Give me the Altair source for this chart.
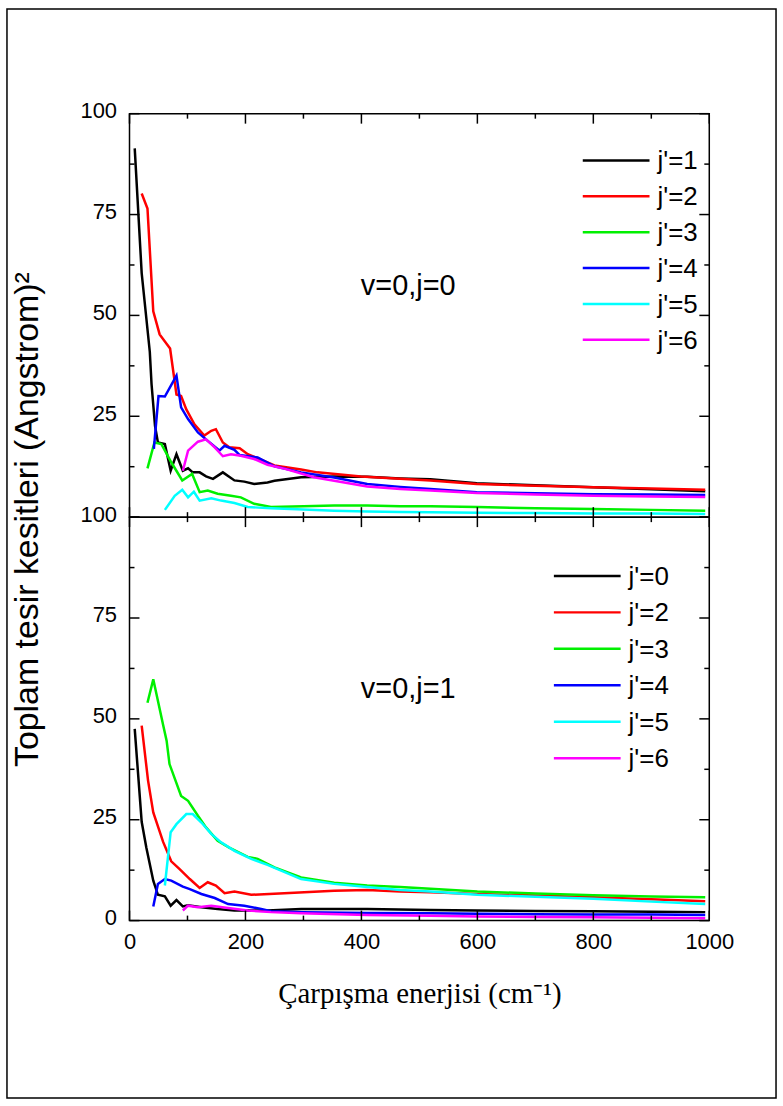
import altair as alt
import pandas as pd

# ---------------- data ----------------
top_labels = ["j'=1", "j'=2", "j'=3", "j'=4", "j'=5", "j'=6"]
bot_labels = ["j'=0", "j'=2", "j'=3", "j'=4", "j'=5", "j'=6"]
line_colors = ["#000000", "#ff0000", "#00f000", "#0000ff", "#00ffff", "#ff00ff"]

# panel v=0, j=0
t1_E = [9, 21, 35, 38, 44, 49, 61, 71, 81, 92, 101, 109, 121, 132, 144, 161, 181, 198, 215, 238, 250, 296, 353, 410, 467, 519, 599, 700, 800, 900, 993]
t1_V = [91.4, 60.5, 41, 33, 22.6, 18.5, 18.1, 11.5, 15.6, 11.5, 12.1, 11.1, 11.1, 10.1, 9.5, 11.1, 9.1, 8.8, 8.2, 8.6, 9.0, 9.9, 10.1, 10.0, 9.6, 9.4, 8.4, 7.9, 7.4, 6.9, 6.4]
t2_E = [21, 31, 41, 52, 70, 81, 89, 98, 112, 129, 141, 149, 161, 172, 190, 204, 221, 250, 296, 324, 399, 519, 599, 700, 800, 900, 993]
t2_V = [80.2, 76.5, 51, 45.3, 41.8, 30.4, 30, 26.7, 23, 20.2, 21.4, 21.8, 18.5, 17.3, 17.1, 15.6, 14.6, 12.8, 11.8, 11.1, 10.1, 9.1, 8.2, 7.8, 7.4, 7.1, 6.8]
t3_E = [31, 43, 55, 72, 91, 108, 121, 135, 152, 175, 192, 215, 244, 300, 353, 410, 467, 519, 600, 700, 800, 900, 993]
t3_V = [12.1, 18.5, 18.1, 13.6, 9.1, 10.7, 6.2, 6.6, 5.8, 5.3, 4.9, 3.3, 2.5, 2.7, 2.9, 2.9, 2.7, 2.7, 2.5, 2.2, 2.0, 1.8, 1.6]
t4_E = [42, 50, 61, 81, 89, 101, 118, 135, 155, 164, 181, 190, 221, 250, 296, 353, 410, 467, 519, 599, 700, 800, 900, 993]
t4_V = [16.9, 30, 29.9, 35.1, 27.2, 24.3, 21, 18.9, 16.5, 17.7, 16.7, 15.4, 14.8, 12.6, 11.1, 9.8, 8.2, 7.5, 7.0, 6.2, 5.9, 5.7, 5.6, 5.5]
t5_E = [61, 78, 91, 101, 111, 121, 141, 158, 181, 204, 244, 300, 353, 410, 467, 519, 600, 700, 800, 900, 993]
t5_V = [1.8, 5.3, 6.8, 4.9, 6.3, 4.1, 4.7, 4.1, 3.5, 2.5, 2.2, 1.9, 1.6, 1.4, 1.3, 1.2, 1.1, 1.0, 0.9, 0.9, 0.8]
t6_E = [92, 101, 118, 132, 147, 161, 175, 192, 215, 238, 270, 318, 353, 410, 467, 519, 599, 700, 800, 900, 993]
t6_V = [11.5, 16.5, 18.7, 19.3, 17.3, 15.1, 15.6, 15.2, 14.4, 13.0, 11.9, 9.9, 9.0, 7.6, 7.0, 6.6, 6.0, 5.6, 5.3, 5.1, 5.0]

# panel v=0, j=1
b0_E = [9, 21, 29, 41, 49, 61, 71, 81, 92, 101, 124, 152, 181, 238, 296, 410, 519, 600, 700, 800, 900, 993]
b0_V = [47.5, 24.5, 18.1, 9.9, 6.4, 6.0, 3.7, 5.1, 3.5, 3.8, 3.3, 2.9, 2.5, 2.5, 2.9, 2.9, 2.6, 2.5, 2.4, 2.3, 2.2, 2.1]
b2_E = [21, 32, 41, 58, 72, 86, 104, 121, 135, 149, 164, 181, 210, 267, 353, 410, 467, 519, 600, 700, 800, 900, 993]
b2_V = [48.3, 34.7, 26.8, 19.5, 14.7, 12.8, 10.3, 8.1, 9.5, 8.7, 6.8, 7.2, 6.4, 6.8, 7.4, 7.6, 7.2, 7.0, 6.6, 6.2, 5.8, 5.3, 4.8]
b3_E = [31, 41, 58, 64, 69, 89, 101, 118, 132, 152, 172, 204, 221, 250, 296, 353, 410, 467, 519, 600, 700, 800, 900, 993]
b3_V = [54, 59.8, 48.5, 44.6, 38.8, 30.9, 29.7, 26, 23.1, 19.8, 18.1, 15.8, 15.3, 13.2, 10.7, 9.4, 8.7, 8.3, 7.9, 7.2, 6.7, 6.3, 6.0, 5.8]
b4_E = [41, 49, 61, 72, 92, 104, 124, 147, 170, 198, 227, 244, 300, 410, 519, 600, 700, 800, 900, 993]
b4_V = [3.5, 9.1, 10.3, 9.9, 8.4, 7.8, 6.6, 5.6, 4.1, 3.7, 2.9, 2.3, 2.1, 1.9, 1.8, 1.7, 1.6, 1.5, 1.5, 1.4]
b5_E = [61, 71, 81, 98, 109, 124, 141, 158, 181, 210, 238, 296, 353, 410, 467, 519, 600, 700, 800, 900, 993]
b5_V = [8.7, 21.9, 23.9, 26.4, 26.4, 24.3, 21.5, 19.4, 17.3, 15.3, 13.8, 10.3, 9.1, 8.3, 7.6, 7.2, 6.4, 5.9, 5.4, 4.7, 4.1]
b6_E = [92, 101, 118, 141, 170, 204, 244, 296, 410, 519, 600, 700, 800, 900, 993]
b6_V = [2.5, 3.7, 3.3, 3.7, 3.1, 2.5, 2.1, 1.8, 1.4, 1.2, 1.0, 0.9, 0.8, 0.7, 0.6]

top_note = ["v=0,j=0"]
bot_note = ["v=0,j=1"]
note_E = [399]
note_V = [57.3]

x_major = [0, 200, 400, 600, 800, 1000]
x_minor = [100, 300, 500, 700, 900]
y_major = [0, 25, 50, 75, 100]
y_minor = [12.5, 37.5, 62.5, 87.5]

# ---------------- build ----------------
W, H = 582, 405
FONT = "Liberation Sans"


def long_df(series_list, labels):
    rows = []
    for (E, V), lab in zip(series_list, labels):
        for e, v in zip(E, V):
            rows.append({"E": e, "V": v, "series": lab})
    return pd.DataFrame(rows)


top_df = long_df([(t1_E, t1_V), (t2_E, t2_V), (t3_E, t3_V), (t4_E, t4_V), (t5_E, t5_V), (t6_E, t6_V)], top_labels)
bot_df = long_df([(b0_E, b0_V), (b2_E, b2_V), (b3_E, b3_V), (b4_E, b4_V), (b5_E, b5_V), (b6_E, b6_V)], bot_labels)

xscale = alt.Scale(domain=[0, 1000], nice=False)
yscale = alt.Scale(domain=[0, 100], nice=False)

bottom_xaxis = alt.Axis(values=x_major, format="d", ticks=False, domain=False, grid=False, labelFont=FONT,
                        labelFontSize=22, labelColor="black", labelPadding=11, labelFlush=False,
                        title="Çarpışma enerjisi (cm⁻¹)", titleFont="Liberation Serif",
                        titleFontSize=29, titleFontWeight="normal", titleColor="black", titlePadding=27)
bottom_yaxis = alt.Axis(values=y_major, ticks=False, domain=False, grid=False, labelFont=FONT,
                        labelFontSize=22, labelColor="black", labelPadding=13, labelFlush=False,
                        labelOffset=-3, title=None)
top_xaxis = alt.Axis(labels=False, ticks=False, domain=False, grid=False, title=None)
top_yaxis = alt.Axis(values=[25, 50, 75, 100], ticks=False, domain=False, grid=False, labelFont=FONT,
                     labelFontSize=22, labelColor="black", labelPadding=13, labelFlush=False, labelOffset=-3,
                     title="Toplam tesir kesitleri (Angstrom)²", titleFont=FONT, titleFontSize=34,
                     titleFontWeight="normal", titleColor="black", titleX=-85, titleY=H + 2,
                     titleAngle=270, titleBaseline="bottom", titleAlign="center")


def tick_layers(xaxis, yaxis):
    layers = []
    for vals, ln in ((x_major, 10), (x_minor, 5)):
        d = pd.DataFrame({"E": vals})
        base = alt.Chart(d).mark_rule(color="black", strokeWidth=1.5)
        layers.append(base.encode(x=alt.X("E:Q", scale=xscale, axis=xaxis), y=alt.value(H), y2=alt.value(H - ln)))
        layers.append(base.encode(x=alt.X("E:Q", scale=xscale, axis=xaxis), y=alt.value(0), y2=alt.value(ln)))
    for vals, ln in ((y_major, 10), (y_minor, 5)):
        d = pd.DataFrame({"V": vals})
        base = alt.Chart(d).mark_rule(color="black", strokeWidth=1.5)
        layers.append(base.encode(y=alt.Y("V:Q", scale=yscale, axis=yaxis), x=alt.value(0), x2=alt.value(ln)))
        layers.append(base.encode(y=alt.Y("V:Q", scale=yscale, axis=yaxis), x=alt.value(W), x2=alt.value(W - ln)))
    return layers


def panel(df, labels, note, leg_x, leg_y0, leg_y1, is_bottom):
    xaxis = bottom_xaxis if is_bottom else top_xaxis
    yaxis = bottom_yaxis if is_bottom else top_yaxis
    cscale = alt.Scale(domain=labels, range=line_colors)
    lines = alt.Chart(df).mark_line(strokeWidth=2.5).encode(
        x=alt.X("E:Q", scale=xscale, axis=xaxis),
        y=alt.Y("V:Q", scale=yscale, axis=yaxis),
        color=alt.Color("series:N", scale=cscale, legend=None),
        detail="series:N",
    )
    nd = pd.DataFrame({"E": note_E, "V": note_V, "txt": note})
    text = alt.Chart(nd).mark_text(align="left", baseline="middle", font=FONT, fontSize=29, color="black").encode(
        x=alt.X("E:Q", scale=xscale, axis=xaxis), y=alt.Y("V:Q", scale=yscale, axis=yaxis), text="txt:N")
    layers = [lines, text] + tick_layers(xaxis, yaxis)
    if not is_bottom:
        frame = alt.Chart(pd.DataFrame({"k": [0]})).mark_rect(fillOpacity=0, stroke="black", strokeWidth=1.5).encode(
            x=alt.value(-123), x2=alt.value(649), y=alt.value(-105), y2=alt.value(988))
        layers.append(frame)
    plot = alt.layer(*layers)

    # in-plot legend (rows placed by a point scale)
    ld = pd.DataFrame({"series": labels})
    lscale = alt.Scale(type="point", domain=labels, range=[leg_y0, leg_y1], padding=0)
    leg_lines = alt.Chart(ld).mark_rule(strokeWidth=2.5).encode(
        y=alt.Y("series:N", scale=lscale, axis=None),
        x=alt.value(leg_x), x2=alt.value(leg_x + 67),
        color=alt.Color("series:N", scale=cscale, legend=None))
    leg_text = alt.Chart(ld).mark_text(align="left", baseline="middle", font=FONT, fontSize=26, color="black",
                                       dy=1).encode(
        y=alt.Y("series:N", scale=lscale, axis=None),
        x=alt.value(leg_x + 75), text="series:N")
    legend = alt.layer(leg_lines, leg_text)
    return alt.layer(plot, legend).resolve_scale(y="independent").properties(width=W, height=H)


top = panel(top_df, top_labels, top_note, 455, 47, 227, False)
bot = panel(bot_df, bot_labels, bot_note, 426, 59, 242, True)

chart = alt.vconcat(top, bot, spacing=0, bounds="flush").resolve_scale(color="independent").configure_view(
    stroke="black", strokeWidth=1.5).properties(background="white")

chart.save("out.html", embed_options={"renderer": "svg", "actions": False})
